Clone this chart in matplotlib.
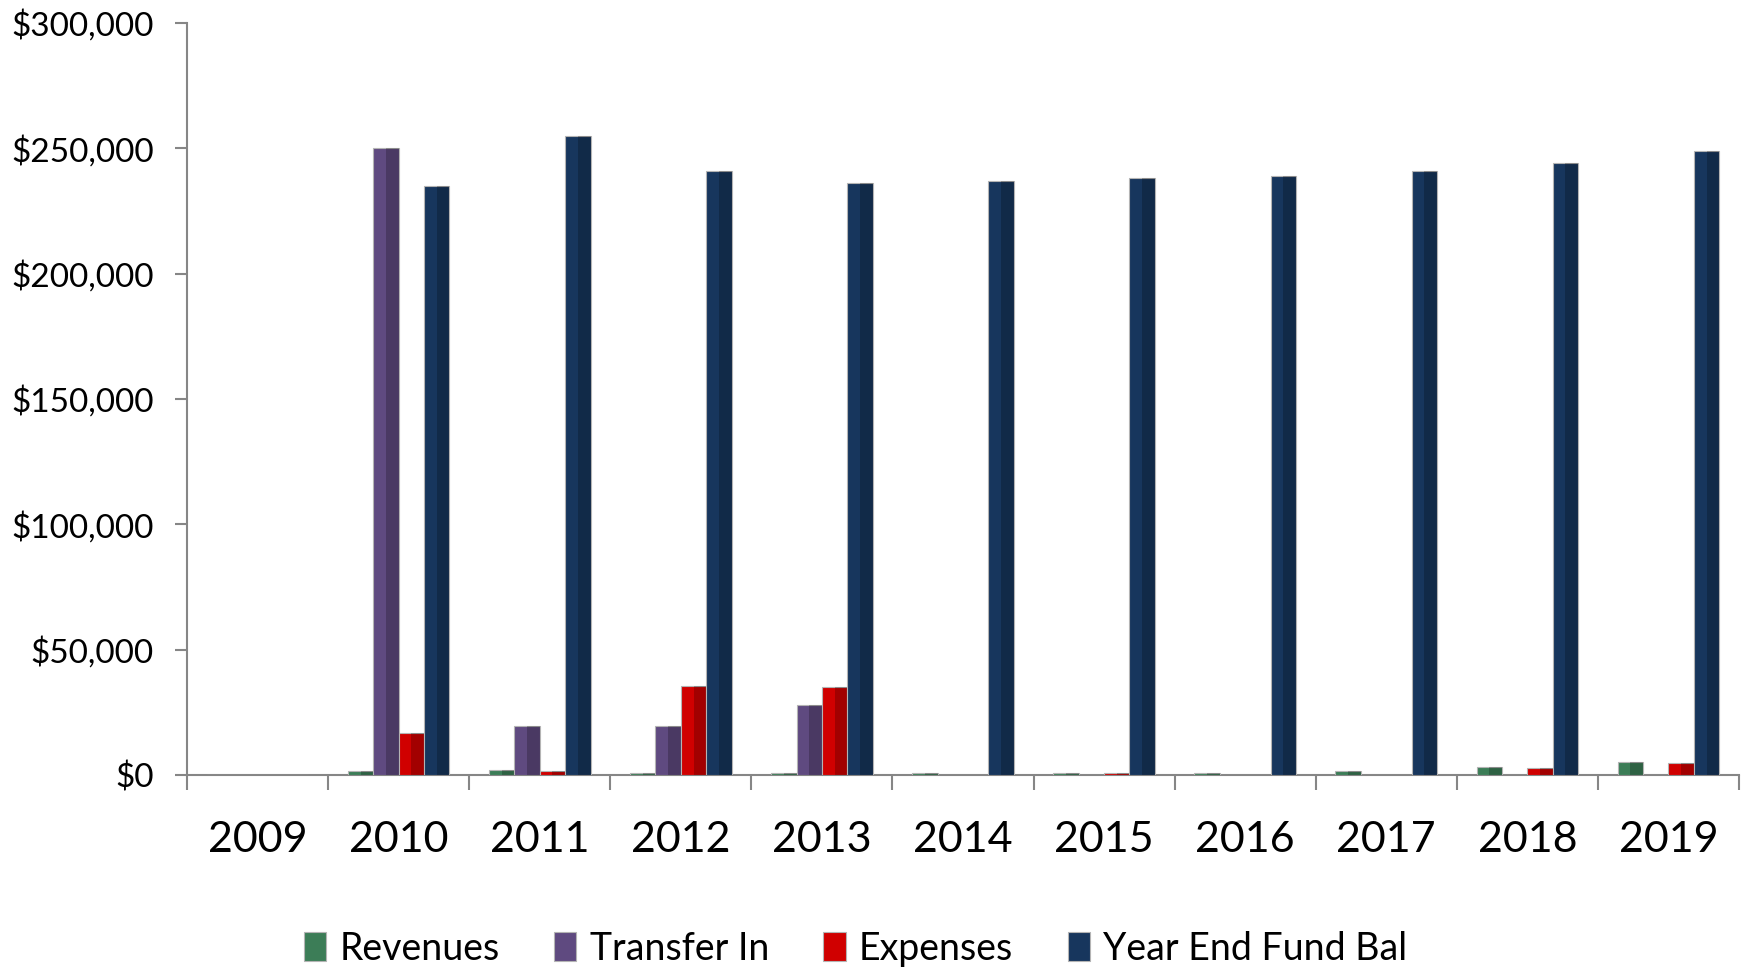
import numpy as np
import matplotlib as mpl
mpl.use("Agg")
import matplotlib.pyplot as plt
from matplotlib.ticker import FuncFormatter, MultipleLocator

mpl.rcParams["font.family"] = ["Lato", "DejaVu Sans"]

years = ["2009", "2010", "2011", "2012", "2013", "2014",
         "2015", "2016", "2017", "2018", "2019"]
revenues = [0, 1470, 1870, 930, 670, 700, 800, 900, 1700, 3050, 5050]
transfer_in = [0, 250000, 19500, 19500, 28100, 0, 0, 0, 0, 0, 0]
expenses = [0, 16800, 1600, 35400, 35200, 0, 700, 0, 0, 2650, 4700]
year_end_bal = [0, 235000, 255000, 241000, 236000, 237000,
                238000, 239000, 241000, 244000, 249000]

series = [
    ("Revenues", revenues, "#3c7d57"),
    ("Transfer In", transfer_in, "#5f4a80"),
    ("Expenses", expenses, "#d00000"),
    ("Year End Fund Bal", year_end_bal, "#17365d"),
]

W, H = 1746, 969
fig = plt.figure(figsize=(W / 100, H / 100), dpi=100)
ax = fig.add_axes([187 / W, 1 - 775 / H, (1739 - 187) / W, (775 - 23) / H])

x = np.arange(len(years))
bw = 0.18
handles = []
for i, (name, vals, col) in enumerate(series):
    pos = x + (i - 1.5) * bw
    b = ax.bar(pos, vals, width=bw, color=col, edgecolor="#b4b4b4",
               linewidth=0.8, label=name, zorder=3)
    # darker right half for a bevelled look
    ax.bar(pos + bw / 4, vals, width=bw / 2, color="black", alpha=0.22,
           linewidth=0, zorder=4)
    handles.append(b)

ax.set_xlim(-0.5, len(years) - 0.5)
ax.set_ylim(0, 300000)
ax.yaxis.set_major_locator(MultipleLocator(50000))
ax.yaxis.set_major_formatter(FuncFormatter(lambda v, p: f"${v:,.0f}"))

ax.set_xticks(x)
ax.set_xticklabels(years)
ax.set_xticks(np.arange(-0.5, len(years)), minor=True)
ax.tick_params(axis="x", which="major", length=0, pad=33, labelsize=31)
ax.tick_params(axis="x", which="minor", length=11, width=1.5,
               color="#868686", direction="out")
ax.tick_params(axis="y", length=9, width=1.5, color="#868686",
               direction="out", pad=15, labelsize=24)

for s in ["top", "right"]:
    ax.spines[s].set_visible(False)
for s in ["left", "bottom"]:
    ax.spines[s].set_color("#868686")
    ax.spines[s].set_linewidth(1.5)

fig.legend(handles=handles, loc="center", bbox_to_anchor=(0.49, 0.021),
           ncol=4, frameon=False, fontsize=27, handlelength=0.6,
           handleheight=0.8, handletextpad=0.35, columnspacing=1.45,
           borderaxespad=0)

fig.savefig("out.png", dpi=100)
